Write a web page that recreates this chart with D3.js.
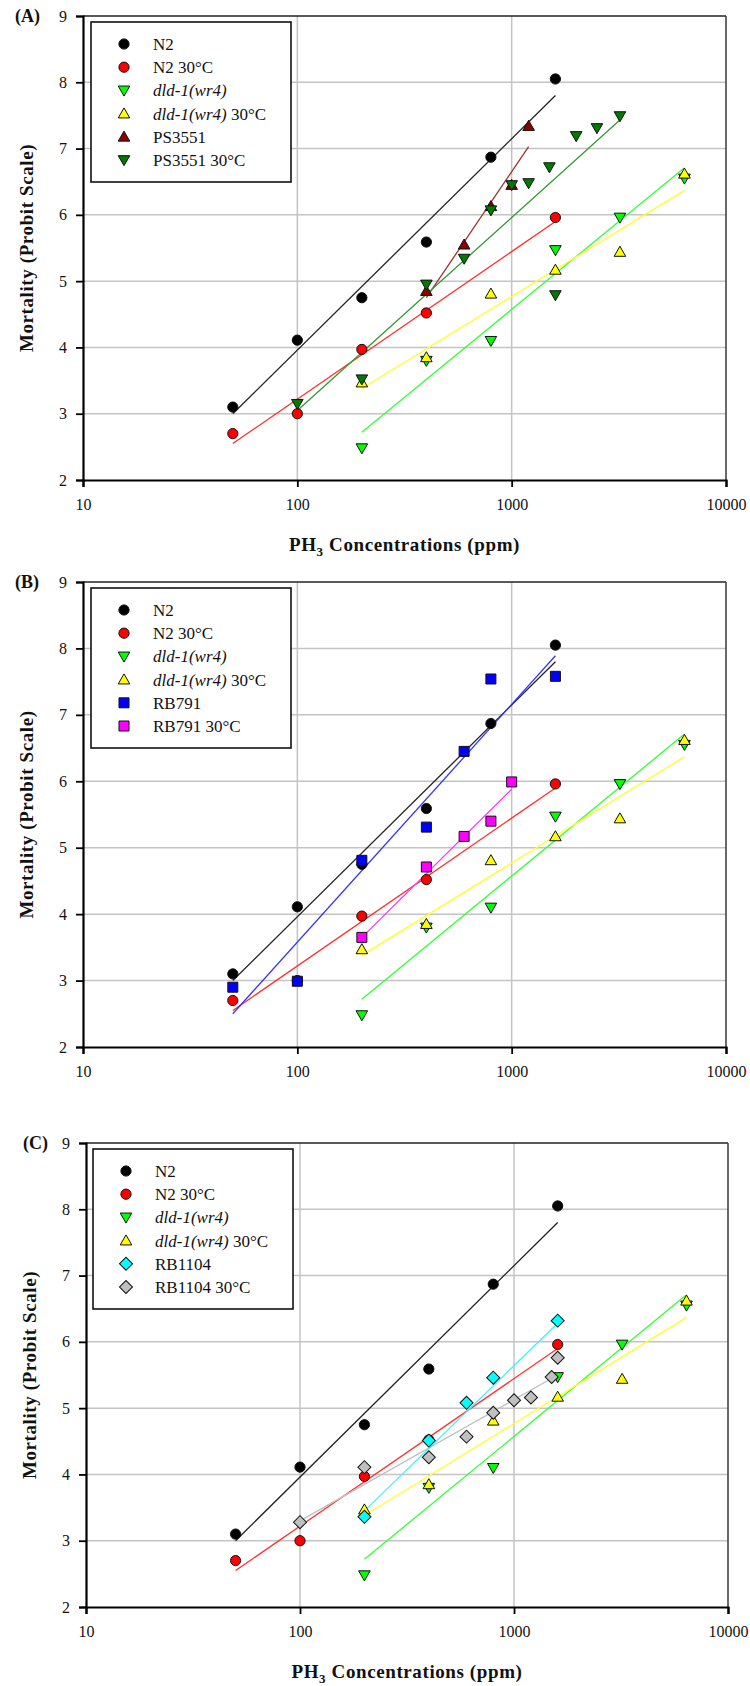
<!DOCTYPE html>
<html><head><meta charset="utf-8">
<script src="https://cdn.jsdelivr.net/npm/d3@7"></script>
<style>body{margin:0;background:#fff}svg{display:block}</style>
</head><body>
<script>
// ---------------- data ----------------
const xTicks = [10, 100, 1000, 10000];
const yTicks = [2, 3, 4, 5, 6, 7, 8, 9];

const n2X = [50, 100, 200, 400, 800, 1600];
const n2Y = [3.10, 4.11, 4.75, 5.59, 6.87, 8.05];
const n2FitX = [50, 1600], n2FitY = [3.00, 7.80];

const n230X = [50, 100, 200, 400, 1600];
const n230Y = [2.70, 3.00, 3.97, 4.52, 5.96];
const n230FitX = [50, 1600], n230FitY = [2.55, 5.90];

const dldX = [200, 400, 800, 1600, 3200, 6400];
const dldY = [2.48, 3.80, 4.10, 5.47, 5.96, 6.55];
const dldFitX = [200, 6400], dldFitY = [2.72, 6.71];

const dld30X = [200, 400, 800, 1600, 3200, 6400];
const dld30Y = [3.47, 3.85, 4.81, 5.17, 5.44, 6.62];
const dld30FitX = [200, 6400], dld30FitY = [3.38, 6.37];

const ps3551X = [400, 600, 800, 1000, 1200];
const ps3551Y = [4.85, 5.55, 6.13, 6.45, 7.34];
const ps3551FitX = [400, 1200], ps3551FitY = [4.75, 7.03];

const ps355130X = [100, 200, 400, 600, 800, 1000, 1200, 1500, 1600, 2000, 2500, 3200];
const ps355130Y = [3.15, 3.52, 4.95, 5.34, 6.07, 6.45, 6.48, 6.72, 4.79, 7.19, 7.31, 7.49];
const ps355130FitX = [100, 3200], ps355130FitY = [3.05, 7.43];

const rb791X = [50, 100, 200, 400, 600, 800, 1600];
const rb791Y = [2.90, 2.99, 4.81, 5.31, 6.45, 7.54, 7.58];
const rb791FitX = [50, 1600], rb791FitY = [2.50, 7.89];

const rb79130X = [200, 400, 600, 800, 1000];
const rb79130Y = [3.65, 4.71, 5.17, 5.40, 5.99];
const rb79130FitX = [200, 1000], rb79130FitY = [3.65, 5.88];

const rb1104X = [200, 400, 600, 800, 1600];
const rb1104Y = [3.36, 4.51, 5.08, 5.46, 6.32];
const rb1104FitX = [200, 1600], rb1104FitY = [3.45, 6.28];

const rb110430X = [100, 200, 400, 600, 800, 1000, 1200, 1500, 1600];
const rb110430Y = [3.28, 4.11, 4.26, 4.57, 4.93, 5.12, 5.16, 5.47, 5.76];
const rb110430FitX = [100, 1600], rb110430FitY = [3.30, 5.50];

// ---------------- series definitions ----------------
const S = {
  n2:      {name:"N2", italic:"", shape:"circle", fill:"#000000", line:"#222222", x:n2X, y:n2Y, fx:n2FitX, fy:n2FitY},
  n230:    {name:"N2 30°C", italic:"", shape:"circle", fill:"#ff0000", line:"#ff3030", x:n230X, y:n230Y, fx:n230FitX, fy:n230FitY},
  dld:     {name:"", italic:"dld-1(wr4)", shape:"down", fill:"#00ff00", line:"#33ff33", x:dldX, y:dldY, fx:dldFitX, fy:dldFitY},
  dld30:   {name:" 30°C", italic:"dld-1(wr4)", shape:"up", fill:"#ffff00", line:"#ffff22", x:dld30X, y:dld30Y, fx:dld30FitX, fy:dld30FitY},
  ps:      {name:"PS3551", italic:"", shape:"up", fill:"#8b0000", line:"#993333", x:ps3551X, y:ps3551Y, fx:ps3551FitX, fy:ps3551FitY},
  ps30:    {name:"PS3551 30°C", italic:"", shape:"down", fill:"#007a00", line:"#339933", x:ps355130X, y:ps355130Y, fx:ps355130FitX, fy:ps355130FitY},
  rb791:   {name:"RB791", italic:"", shape:"square", fill:"#0000ff", line:"#3333ff", x:rb791X, y:rb791Y, fx:rb791FitX, fy:rb791FitY},
  rb79130: {name:"RB791 30°C", italic:"", shape:"square", fill:"#ff00ff", line:"#ff33ff", x:rb79130X, y:rb79130Y, fx:rb79130FitX, fy:rb79130FitY},
  rb1104:  {name:"RB1104", italic:"", shape:"diamond", fill:"#00ffff", line:"#44eeff", x:rb1104X, y:rb1104Y, fx:rb1104FitX, fy:rb1104FitY},
  rb110430:{name:"RB1104 30°C", italic:"", shape:"diamond", fill:"#c0c0c0", line:"#c0c0c0", x:rb110430X, y:rb110430Y, fx:rb110430FitX, fy:rb110430FitY}
};

const panels = [
  {label:"(A)", left:83, right:726, top:16, bottom:480, labelX:15, xTitle:true, legend:{x:91,y:22},
   series:["n2","n230","dld","dld30","ps","ps30"], draw:["n2","n230","dld","dld30","ps","ps30"]},
  {label:"(B)", left:83, right:726, top:582, bottom:1047, labelX:15, xTitle:false, legend:{x:91,y:588},
   series:["n2","n230","dld","dld30","rb791","rb79130"], draw:["n2","n230","dld","dld30","rb791","rb79130"]},
  {label:"(C)", left:86, right:728, top:1143, bottom:1607, labelX:23, xTitle:true, legend:{x:93,y:1149},
   series:["n2","n230","dld","dld30","rb1104","rb110430"], draw:["n2","n230","dld","dld30","rb110430","rb1104"]}
];

// ---------------- drawing ----------------
const W = 750, H = 1686;
const svg = d3.select("body").append("svg").attr("width", W).attr("height", H)
  .style("font-family", "'Liberation Serif','Times New Roman',serif");
svg.append("rect").attr("width", W).attr("height", H).attr("fill", "#fff");

function symbolPath(shape) {
  if (shape === "circle") return d3.symbol(d3.symbolCircle, 82)();
  if (shape === "square") return d3.symbol(d3.symbolSquare, 100)();
  if (shape === "diamond") return d3.symbol(d3.symbolSquare, 85)();
  return d3.symbol(d3.symbolTriangle, 58)();
}
function symbolRot(shape) {
  if (shape === "down") return 180;
  if (shape === "diamond") return 45;
  return 0;
}
function symbolShift(shape) {
  if (shape === "up") return 1;
  if (shape === "down") return -1;
  return 0;
}

panels.forEach(p => {
  const g = svg.append("g");
  const x = d3.scaleLog().domain([10, 10000]).range([p.left, p.right]);
  const y = d3.scaleLinear().domain([2, 9]).range([p.bottom, p.top]);

  // grid
  g.append("g").selectAll("line").data(yTicks.filter(v => v > 2 && v < 9)).join("line")
    .attr("x1", p.left).attr("x2", p.right).attr("y1", d => y(d)).attr("y2", d => y(d))
    .attr("stroke", "#c4c4c4").attr("stroke-width", 1.5);
  g.append("g").selectAll("line").data([100, 1000]).join("line")
    .attr("x1", d => x(d)).attr("x2", d => x(d)).attr("y1", p.top).attr("y2", p.bottom)
    .attr("stroke", "#c4c4c4").attr("stroke-width", 1.5);
  // top & right border
  g.append("line").attr("x1", p.left).attr("x2", p.right).attr("y1", y(9)).attr("y2", y(9))
    .attr("stroke", "#222").attr("stroke-width", 1.6);
  g.append("line").attr("x1", x(10000)).attr("x2", x(10000)).attr("y1", p.top).attr("y2", p.bottom)
    .attr("stroke", "#444").attr("stroke-width", 1.6);

  // axes
  const ax = g.append("g").attr("transform", `translate(0,${p.bottom})`)
    .call(d3.axisBottom(x).tickValues(xTicks).tickFormat(d3.format("d")).tickSize(7).tickPadding(12));
  const ay = g.append("g").attr("transform", `translate(${p.left},0)`)
    .call(d3.axisLeft(y).tickValues(yTicks).tickFormat(d3.format("d")).tickSize(7).tickPadding(9));
  [ax, ay].forEach(a => {
    a.select(".domain").attr("stroke", "#000").attr("stroke-width", 2.2);
    a.selectAll(".tick line").attr("stroke", "#000").attr("stroke-width", 1.8);
    a.selectAll(".tick text").attr("fill", "#111").style("font-size", "16px")
      .style("font-family", "'Liberation Serif',serif");
  });

  // fit lines
  const lineGen = d3.line().x(d => x(d[0])).y(d => y(d[1]));
  p.draw.forEach(k => {
    const s = S[k];
    g.append("path").datum(d3.zip(s.fx, s.fy)).attr("d", lineGen)
      .attr("fill", "none").attr("stroke", s.line).attr("stroke-width", 1.3);
  });
  // markers
  p.draw.forEach(k => {
    const s = S[k];
    g.append("g").selectAll("path").data(d3.zip(s.x, s.y)).join("path")
      .attr("d", symbolPath(s.shape))
      .attr("transform", d => `translate(${x(d[0])},${y(d[1]) + symbolShift(s.shape)}) rotate(${symbolRot(s.shape)})`)
      .attr("fill", s.fill).attr("stroke", "#111").attr("stroke-width", 1);
  });

  // legend
  const lg = g.append("g").attr("transform", `translate(${p.legend.x},${p.legend.y})`);
  lg.append("rect").attr("width", 200).attr("height", 160).attr("fill", "#fff")
    .attr("stroke", "#111").attr("stroke-width", 1.6);
  p.series.forEach((k, i) => {
    const s = S[k];
    const cy = 22 + i * 23.2;
    lg.append("path").attr("d", symbolPath(s.shape))
      .attr("transform", `translate(33,${cy + symbolShift(s.shape)}) rotate(${symbolRot(s.shape)})`)
      .attr("fill", s.fill).attr("stroke", "#111").attr("stroke-width", 1);
    const t = lg.append("text").attr("x", 62).attr("y", cy + 6).style("font-size", "17px").attr("fill", "#111");
    if (s.italic) t.append("tspan").style("font-style", "italic").text(s.italic);
    if (s.name) t.append("tspan").text(s.name);
  });

  // panel label
  g.append("text").attr("x", p.labelX).attr("y", p.top + 6).style("font-size", "18px")
    .style("font-weight", "bold").attr("fill", "#111").text(p.label);

  // y title
  g.append("text").attr("transform", `translate(${p.left - 50},${(p.top + p.bottom) / 2}) rotate(-90)`)
    .attr("text-anchor", "middle").style("font-size", "19px").style("font-weight", "bold")
    .style("letter-spacing", "0.6px").attr("fill", "#111").text("Mortality (Probit Scale)");

  // x title
  if (p.xTitle) {
    const t = g.append("text").attr("x", (p.left + p.right) / 2).attr("y", p.bottom + 71)
      .attr("text-anchor", "middle").style("font-size", "19px").style("font-weight", "bold")
      .style("letter-spacing", "0.6px").attr("fill", "#111");
    t.append("tspan").text("PH");
    t.append("tspan").attr("dy", 5).style("font-size", "13px").text("3");
    t.append("tspan").attr("dy", -5).text(" Concentrations (ppm)");
  }
});
</script>
</body></html>
